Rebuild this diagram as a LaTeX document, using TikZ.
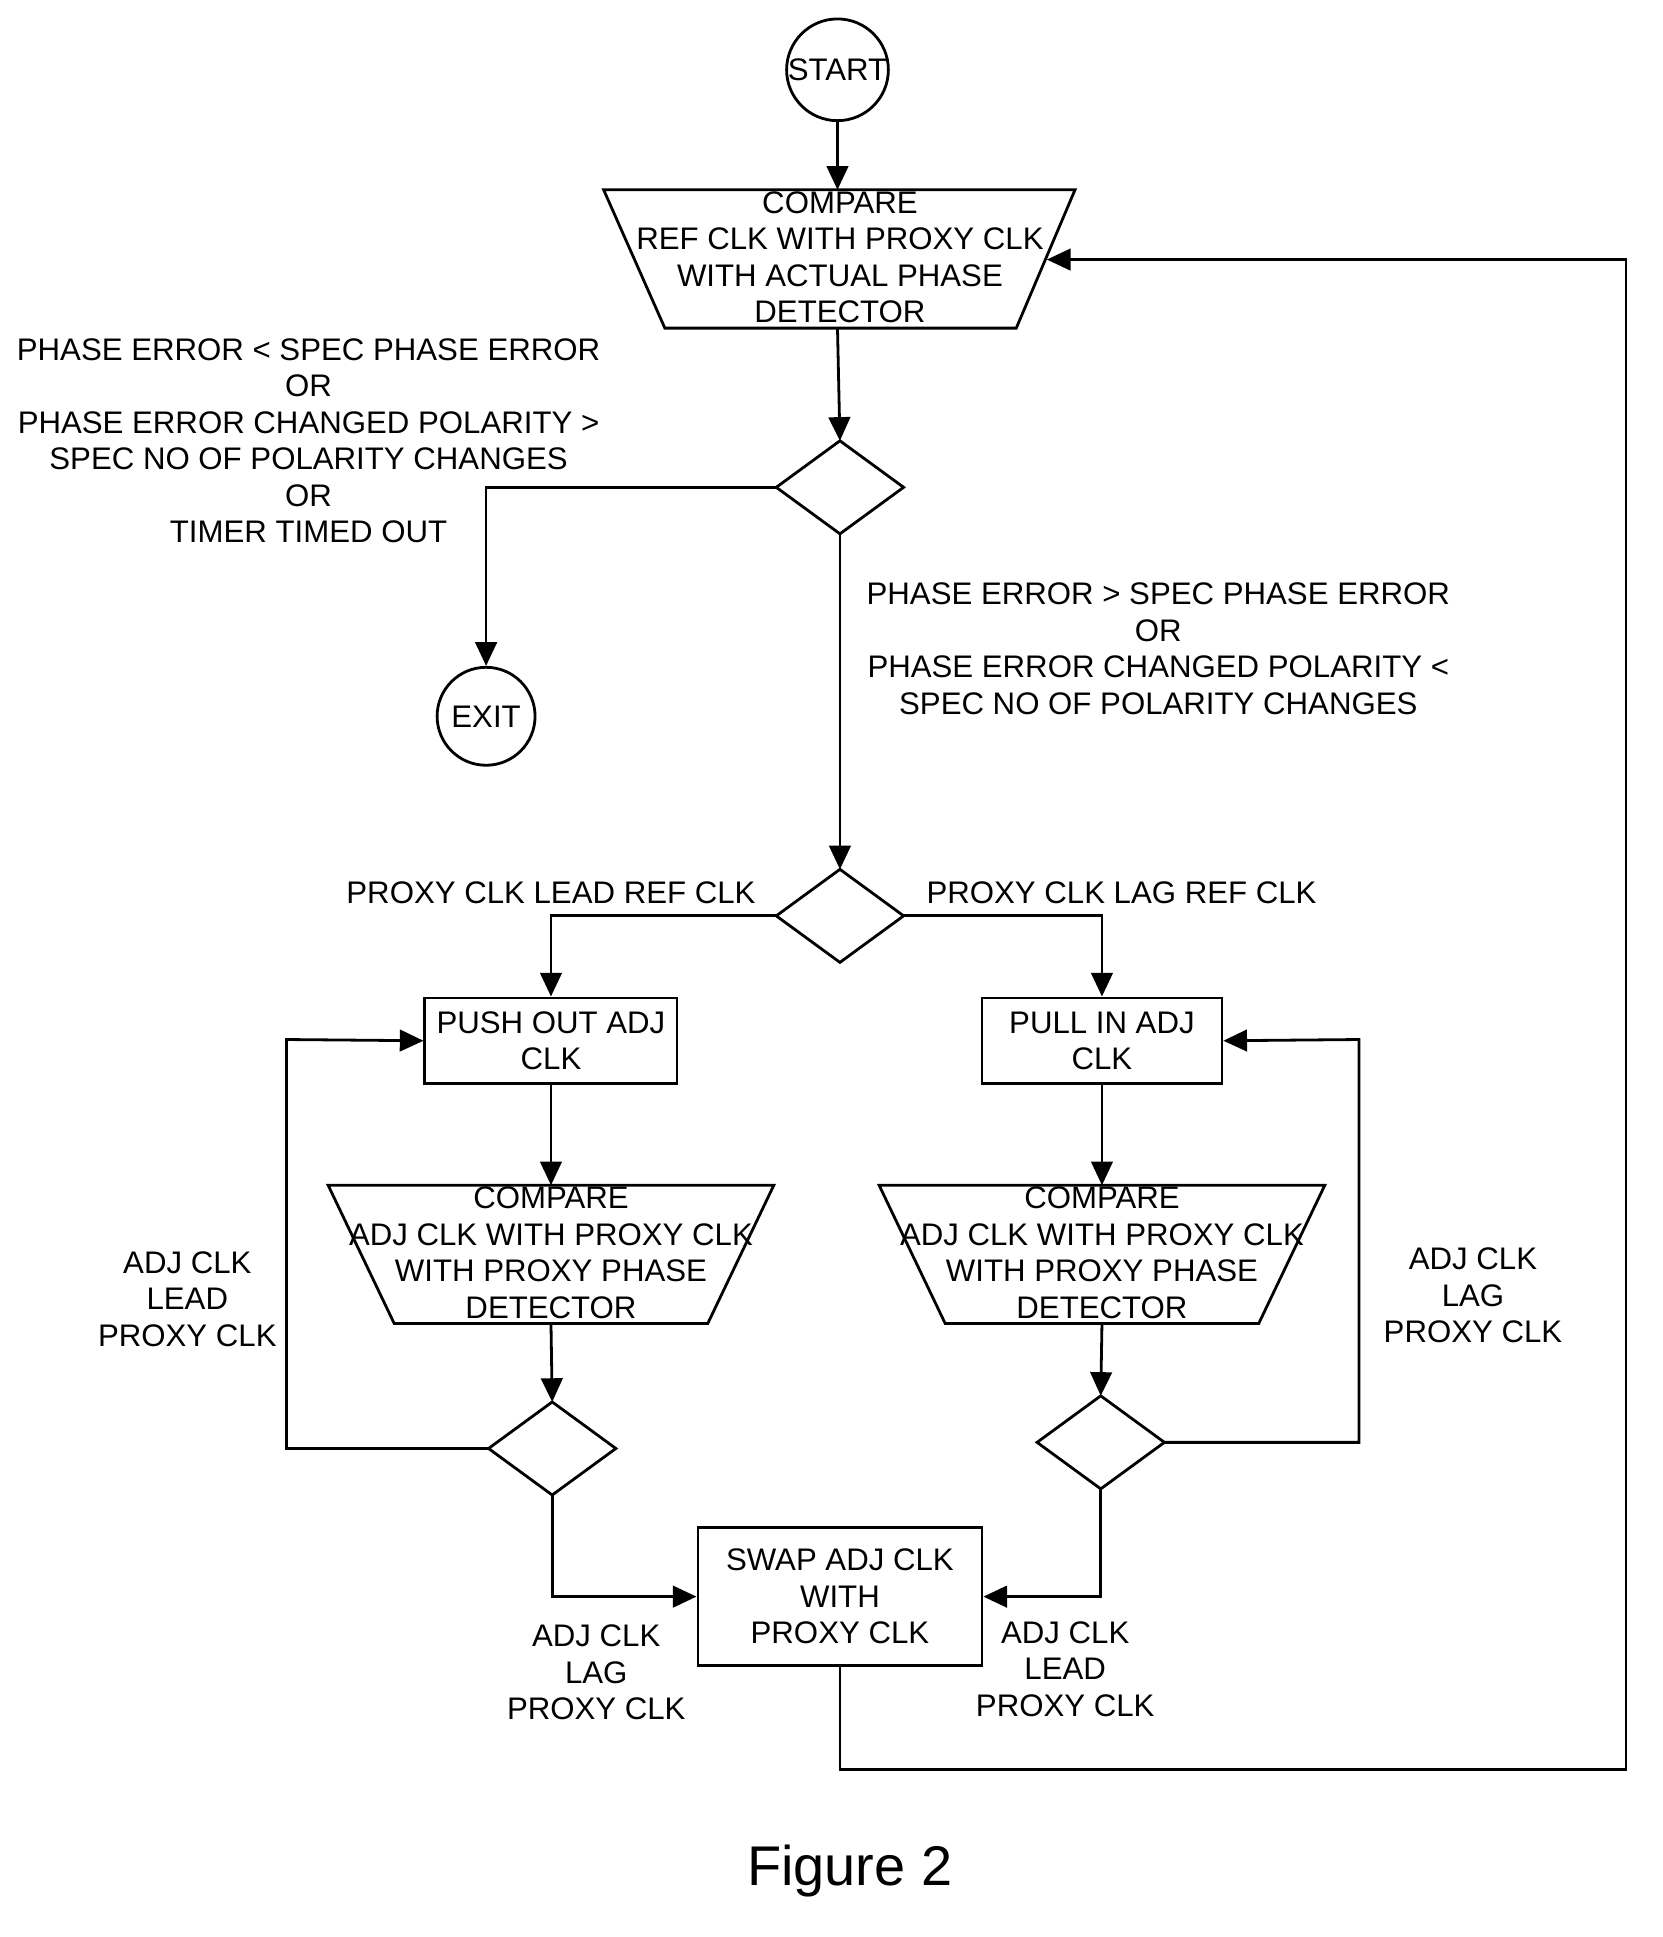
\documentclass[tikz,border=0pt]{standalone}
\usepackage{fontspec}
\setmainfont{Liberation Sans}
\usetikzlibrary{arrows.meta}
\begin{document}
\begin{tikzpicture}[x=0.02cm,y=-0.02cm,
  line width=1.3pt,
  txt/.style={font=\fontsize{14.5}{17}\selectfont,align=center,inner sep=0pt},
  arr/.style={-{Triangle[length=11pt,width=10pt]}},
  box/.style={draw,line width=1.3pt}]
\useasboundingbox (0,0) rectangle (1358,1582);
% start / exit
\node[circle,draw,minimum size=80*0.02cm,inner sep=0pt,txt] (start) at (684,57) {START};
\node[circle,draw,minimum size=80*0.02cm,inner sep=0pt,txt] (exit) at (397,585) {EXIT};
% trapezoid 1
\draw[box] (493,155) -- (878,155) -- (830,268) -- (543,268) -- cycle;
\coordinate (t1top) at (684,155); \coordinate (t1bot) at (684,268); \coordinate (t1r) at (855,212);
\node[txt] (t1) at (686,210) {COMPARE\\REF CLK WITH PROXY CLK\\WITH ACTUAL PHASE\\DETECTOR};
% diamond 1
\draw[box] (634,398) -- (686,360) -- (738,398) -- (686,436) -- cycle;
\coordinate (d1t) at (686,360); \coordinate (d1l) at (634,398); \coordinate (d1b) at (686,436);
\node[txt] (l1) at (252,360) {PHASE ERROR < SPEC PHASE ERROR\\OR\\PHASE ERROR CHANGED POLARITY >\\SPEC NO OF POLARITY CHANGES\\OR\\TIMER TIMED OUT};
\node[txt] (l2) at (946,530) {PHASE ERROR > SPEC PHASE ERROR\\OR\\PHASE ERROR CHANGED POLARITY <\\SPEC NO OF POLARITY CHANGES};
% diamond 2
\draw[box] (634,748) -- (686,710) -- (738,748) -- (686,786) -- cycle;
\coordinate (d2t) at (686,710); \coordinate (d2l) at (634,748); \coordinate (d2r) at (738,748);
\node[txt] (l3) at (450,729) {PROXY CLK LEAD REF CLK};
\node[txt] (l4) at (916,729) {PROXY CLK LAG REF CLK};
% boxes
\node[box,minimum width=206*0.02cm,minimum height=70*0.02cm,txt] (b1) at (450,850) {PUSH OUT ADJ\\CLK};
\node[box,minimum width=196*0.02cm,minimum height=70*0.02cm,txt] (b2) at (900,850) {PULL IN ADJ\\CLK};
% trapezoids 2,3
\draw[box] (268,968) -- (632,968) -- (578,1081) -- (322,1081) -- cycle;
\draw[box] (718,968) -- (1082,968) -- (1028,1081) -- (772,1081) -- cycle;
\coordinate (t2top) at (450,968); \coordinate (t2bot) at (450,1081);
\coordinate (t3top) at (900,968); \coordinate (t3bot) at (900,1081);
\node[txt] (t2) at (450,1023) {COMPARE\\ADJ CLK WITH PROXY CLK\\WITH PROXY PHASE\\DETECTOR};
\node[txt] (t3) at (900,1023) {COMPARE\\ADJ CLK WITH PROXY CLK\\WITH PROXY PHASE\\DETECTOR};
% diamonds 3,4
\draw[box] (399,1183) -- (451,1145) -- (503,1183) -- (451,1221) -- cycle;
\coordinate (d3t) at (451,1145); \coordinate (d3l) at (399,1183); \coordinate (d3b) at (451,1221);
\draw[box] (847,1178) -- (899,1140) -- (951,1178) -- (899,1216) -- cycle;
\coordinate (d4t) at (899,1140); \coordinate (d4r) at (951,1178); \coordinate (d4b) at (899,1216);
\node[txt] (l5) at (153,1061) {ADJ CLK\\LEAD\\PROXY CLK};
\node[txt] (l6) at (1203,1058) {ADJ CLK\\LAG\\PROXY CLK};
% swap
\node[box,minimum width=232*0.02cm,minimum height=113*0.02cm,txt] (sw) at (686,1304) {SWAP ADJ CLK\\WITH\\PROXY CLK};
\node[txt] (l7) at (487,1366) {ADJ CLK\\LAG\\PROXY CLK};
\node[txt] (l8) at (870,1363) {ADJ CLK\\LEAD\\PROXY CLK};
\node[font=\fontsize{26}{30}\selectfont,inner sep=0pt] (fig) at (694,1528) {Figure 2};
% connectors
\draw[arr] (start) -- (t1top);
\draw[arr] (t1bot) -- (d1t);
\draw[arr] (d1l) -| (exit);
\draw[arr] (d1b) -- (d2t);
\draw[arr] (d2l) -| (b1);
\draw[arr] (d2r) -| (b2);
\draw[arr] (b1) -- (t2top);
\draw[arr] (b2) -- (t3top);
\draw[arr] (t2bot) -- (d3t);
\draw[arr] (t3bot) -- (d4t);
\draw[arr] (d3l) -- (234,1183) -- (234,849) -- (b1.west);
\draw[arr] (d4r) -- (1110,1178) -- (1110,849) -- (b2.east);
\draw[arr] (d3b) |- (sw.west);
\draw[arr] (d4b) |- (sw.east);
\draw[arr] (sw.south) -- (686,1445) -- (1328,1445) -- (1328,212) -- (t1r);
\end{tikzpicture}
\end{document}
